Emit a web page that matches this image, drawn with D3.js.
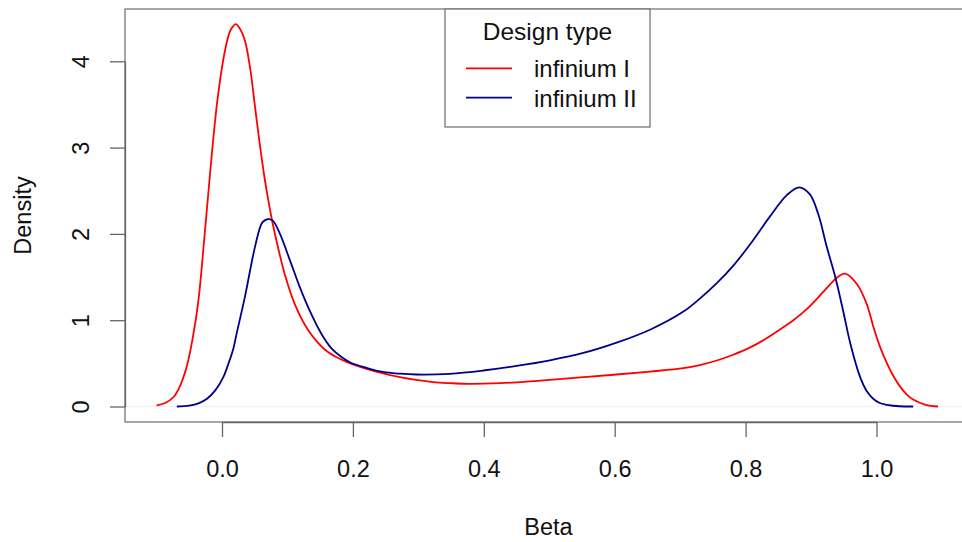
<!doctype html>
<html>
<head>
<meta charset="utf-8">
<script src="https://cdn.jsdelivr.net/npm/d3@7"></script>
<style>
  body { margin: 0; background: #fff; }
  svg { display: block; font-family: "Liberation Sans", Arial, Helvetica, sans-serif; }
</style>
</head>
<body>
<svg id="chart" width="962" height="542"></svg>
<script>
// density estimates
const betaI = [-0.100, -0.087, -0.074, -0.064, -0.054, -0.045, -0.036, -0.027, -0.018, -0.007, 0.005, 0.013,
  0.021, 0.028, 0.035, 0.043, 0.050, 0.057, 0.064, 0.071, 0.078, 0.086, 0.096, 0.1115, 0.132, 0.157,
  0.175, 0.196, 0.221, 0.246, 0.272, 0.300, 0.323, 0.350, 0.374, 0.400, 0.425, 0.476, 0.501, 0.552,
  0.603, 0.654, 0.705, 0.730, 0.756, 0.781, 0.807, 0.832, 0.860, 0.873, 0.893, 0.919, 0.939, 0.952,
  0.970, 0.985, 0.995, 1.005, 1.016, 1.026, 1.036, 1.046, 1.056, 1.075, 1.094];
const densI = [0.012, 0.04, 0.11, 0.24, 0.46, 0.78, 1.23, 1.95, 2.72, 3.55, 4.14, 4.36,
  4.43, 4.37, 4.24, 3.92, 3.50, 3.08, 2.70, 2.38, 2.10, 1.83, 1.53, 1.18, 0.88, 0.66,
  0.57, 0.50, 0.437, 0.385, 0.34, 0.305, 0.282, 0.27, 0.263, 0.264, 0.27, 0.293, 0.309, 0.34,
  0.371, 0.405, 0.444, 0.48, 0.533, 0.60, 0.685, 0.79, 0.93, 1.00, 1.125, 1.33, 1.49, 1.54,
  1.42, 1.19, 0.93, 0.70, 0.50, 0.35, 0.23, 0.14, 0.08, 0.02, 0.0];

const betaII = [-0.069, -0.050, -0.035, -0.023, -0.010, 0.002, 0.010, 0.0173, 0.0225, 0.035, 0.0504, 0.0606,
  0.066, 0.072, 0.078, 0.0886, 0.104, 0.119, 0.134, 0.152, 0.1676, 0.183, 0.196, 0.220, 0.246,
  0.272, 0.297, 0.348, 0.399, 0.450, 0.501, 0.552, 0.603, 0.654, 0.705, 0.730, 0.756, 0.781,
  0.807, 0.837, 0.863, 0.882, 0.898, 0.911, 0.924, 0.937, 0.949, 0.960, 0.975, 0.985, 0.995,
  1.005, 1.016, 1.035, 1.056];
const densII = [0.0, 0.01, 0.04, 0.09, 0.19, 0.34, 0.50, 0.67, 0.85, 1.27, 1.85, 2.12,
  2.16, 2.17, 2.15, 2.00, 1.69, 1.38, 1.11, 0.84, 0.67, 0.57, 0.51, 0.45, 0.40,
  0.38, 0.371, 0.379, 0.417, 0.47, 0.535, 0.62, 0.74, 0.89, 1.10, 1.25, 1.43, 1.63,
  1.88, 2.20, 2.45, 2.54, 2.46, 2.23, 1.85, 1.50, 1.11, 0.73, 0.34, 0.18, 0.09,
  0.04, 0.02, 0.003, 0.0];

const seriesNames = ["infinium I", "infinium II"];
const seriesColors = ["#ff0000", "#00008b"];
const xTicks = [0, 0.2, 0.4, 0.6, 0.8, 1.0];
const yTicks = [0, 1, 2, 3, 4];

const svg = d3.select("#chart");
const box = {left: 125, top: 9, right: 972, bottom: 422};

const x = d3.scaleLinear().domain([0, 1]).range([222, 876.5]);
const y = d3.scaleLinear().domain([0, 4]).range([406.5, 61.3]);

// zero line (R's plot.density)
svg.append("line")
    .attr("x1", box.left).attr("x2", box.right)
    .attr("y1", y(0)).attr("y2", y(0))
    .attr("stroke", "#e8e8e8").attr("stroke-width", 0.6);

const line = d3.line()
    .x(d => x(d[0]))
    .y(d => y(d[1]))
    .curve(d3.curveCatmullRom.alpha(0.5));

const series = [d3.zip(betaI, densI), d3.zip(betaII, densII)];

svg.append("g")
    .attr("fill", "none")
    .attr("stroke-width", 1.8)
  .selectAll("path")
  .data(series)
  .join("path")
    .attr("stroke", (d, i) => seriesColors[i])
    .attr("d", line);

// plot frame
svg.append("rect")
    .attr("x", box.left).attr("y", box.top)
    .attr("width", box.right - box.left).attr("height", box.bottom - box.top)
    .attr("fill", "none").attr("stroke", "#777").attr("stroke-width", 1.3);

const xAxis = svg.append("g")
    .attr("transform", `translate(0,${box.bottom})`)
    .call(d3.axisBottom(x).tickValues(xTicks).tickSize(15).tickSizeOuter(0).tickFormat(d3.format(".1f")));
xAxis.selectAll("text")
    .attr("y", 55).attr("dy", null)
    .attr("font-size", 23.5).attr("fill", "#111");

const yAxis = svg.append("g")
    .attr("transform", `translate(${box.left},0)`)
    .call(d3.axisLeft(y).tickValues(yTicks).tickSize(15).tickSizeOuter(0).tickFormat(d3.format("d")));
yAxis.selectAll("text")
    .attr("x", null).attr("dy", null)
    .attr("transform", "translate(-36,0) rotate(-90)")
    .attr("text-anchor", "middle")
    .attr("font-size", 23.5).attr("fill", "#111");

svg.selectAll(".domain, .tick line").attr("stroke", "#666").attr("stroke-width", 1.3);

svg.append("text")
    .attr("x", (box.left + box.right) / 2).attr("y", 535)
    .attr("text-anchor", "middle").attr("font-size", 23.5).attr("fill", "#111")
    .text("Beta");

svg.append("text")
    .attr("transform", `translate(31,${(box.top + box.bottom) / 2}) rotate(-90)`)
    .attr("text-anchor", "middle").attr("font-size", 23.5).attr("fill", "#111")
    .text("Density");

// legend
const legend = svg.append("g");
legend.append("rect")
    .attr("x", 445).attr("y", 9).attr("width", 205).attr("height", 118)
    .attr("fill", "#fff").attr("stroke", "#777").attr("stroke-width", 1.3);
legend.append("text")
    .attr("x", 547.5).attr("y", 39.5)
    .attr("text-anchor", "middle").attr("font-size", 24.5).attr("fill", "#111")
    .text("Design type");
const item = legend.selectAll("g.item")
  .data(seriesNames)
  .join("g")
    .attr("class", "item")
    .attr("transform", (d, i) => `translate(0,${68.3 + i * 29.3})`);
item.append("line")
    .attr("x1", 466).attr("x2", 512)
    .attr("stroke", (d, i) => seriesColors[i]).attr("stroke-width", 1.8);
item.append("text")
    .attr("x", 534).attr("y", 9)
    .attr("font-size", 24).attr("fill", "#111")
    .text(d => d);
</script>
</body>
</html>
